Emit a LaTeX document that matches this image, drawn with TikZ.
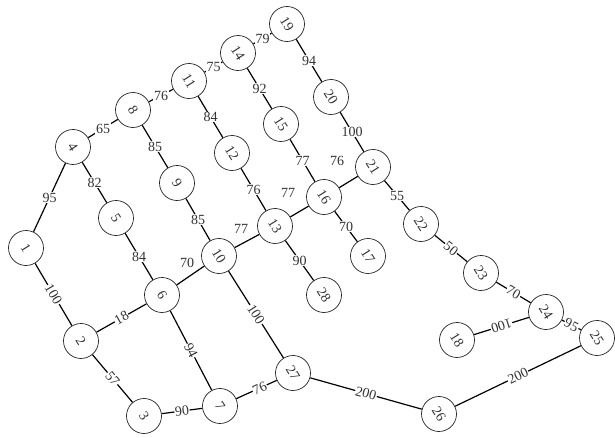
\documentclass[tikz,border=0pt]{standalone}
\usepackage{fontspec}
\setmainfont{Liberation Serif}
\begin{document}
\begin{tikzpicture}[x=1pt,y=-1pt,
 city/.style={circle, draw=black!85, line width=0.7pt, fill=white, minimum size=35pt, inner sep=0pt, rotate=-58, font=\fontsize{14}{14}\selectfont, text=black!80},
 road/.style={line width=1.2pt},
 wt/.style={fill=white, inner sep=0.6pt, font=\fontsize{14}{14}\selectfont, text=black!80},
 swt/.style={wt, sloped},
 owt/.style={inner sep=0.6pt, font=\fontsize{14}{14}\selectfont, text=black!80},
]
\useasboundingbox (0,0) rectangle (615,438);
\node[city] (n1) at (26,248) {1};
\node[city] (n2) at (81,341) {2};
\node[city] (n3) at (144,416) {3};
\node[city] (n4) at (73,147) {4};
\node[city] (n5) at (116,218) {5};
\node[city] (n6) at (162,295) {6};
\node[city] (n7) at (220,406) {7};
\node[city] (n8) at (133,110) {8};
\node[city] (n9) at (177,183) {9};
\node[city] (n10) at (219,256) {10};
\node[city] (n11) at (189,81) {11};
\node[city] (n12) at (232,153) {12};
\node[city] (n13) at (275,226) {13};
\node[city] (n14) at (238,53) {14};
\node[city] (n15) at (281,124) {15};
\node[city] (n16) at (324,197) {16};
\node[city] (n17) at (368,256) {17};
\node[city] (n18) at (457,340) {18};
\node[city] (n19) at (287,24) {19};
\node[city] (n20) at (331,97) {20};
\node[city] (n21) at (373,167) {21};
\node[city] (n22) at (421,224) {22};
\node[city] (n23) at (481,273) {23};
\node[city] (n24) at (546,312) {24};
\node[city] (n25) at (597,338) {25};
\node[city] (n26) at (439,414) {26};
\node[city] (n27) at (293,373) {27};
\node[city] (n28) at (324,295) {28};
% upright labels
\draw[road] (n1) -- node[wt] {95} (n4);
\draw[road] (n4) -- node[wt] {65} (n8);
\draw[road] (n4) -- node[wt] {82} (n5);
\draw[road] (n5) -- node[wt] {84} (n6);
\draw[road] (n8) -- node[wt] {76} (n11);
\draw[road] (n8) -- node[wt] {85} (n9);
\draw[road] (n9) -- node[wt] {85} (n10);
\draw[road] (n11) -- node[wt] {75} (n14);
\draw[road] (n11) -- node[wt] {84} (n12);
\draw[road] (n12) -- node[wt] {76} (n13);
\draw[road] (n14) -- node[wt] {79} (n19);
\draw[road] (n14) -- node[wt] {92} (n15);
\draw[road] (n15) -- node[wt] {77} (n16);
\draw[road] (n19) -- node[wt] {94} (n20);
\draw[road] (n20) -- node[wt] {100} (n21);
\draw[road] (n21) -- node[wt] {55} (n22);
\draw[road] (n16) -- node[wt] {70} (n17);
\draw[road] (n13) -- node[wt] {90} (n28);
% offset labels
\draw[road] (n6) -- node[owt, shift={(-3.5,-12.5)}] {70} (n10);
\draw[road] (n10) -- node[owt, shift={(-6,-12)}] {77} (n13);
\draw[road] (n13) -- node[owt, shift={(-11.5,-18.5)}] {77} (n16);
\draw[road] (n16) -- node[owt, shift={(-11.5,-21)}] {76} (n21);
% sloped labels
\draw[road] (n1) -- node[swt] {100} (n2);
\draw[road] (n2) -- node[swt] {18} (n6);
\draw[road] (n2) -- node[swt] {57} (n3);
\draw[road] (n3) -- node[swt] {90} (n7);
\draw[road] (n6) -- node[swt] {94} (n7);
\draw[road] (n7) -- node[swt, pos=0.58] {76} (n27);
\draw[road] (n10) -- node[swt] {100} (n27);
\draw[road] (n27) -- node[swt] {200} (n26);
\draw[road] (n26) -- node[swt] {200} (n25);
\draw[road] (n24) -- node[swt] {95} (n25);
\draw[road] (n24) -- node[swt, allow upside down] {100} (n18);
\draw[road] (n23) -- node[swt] {70} (n24);
\draw[road] (n22) -- node[swt] {50} (n23);
\end{tikzpicture}
\end{document}
